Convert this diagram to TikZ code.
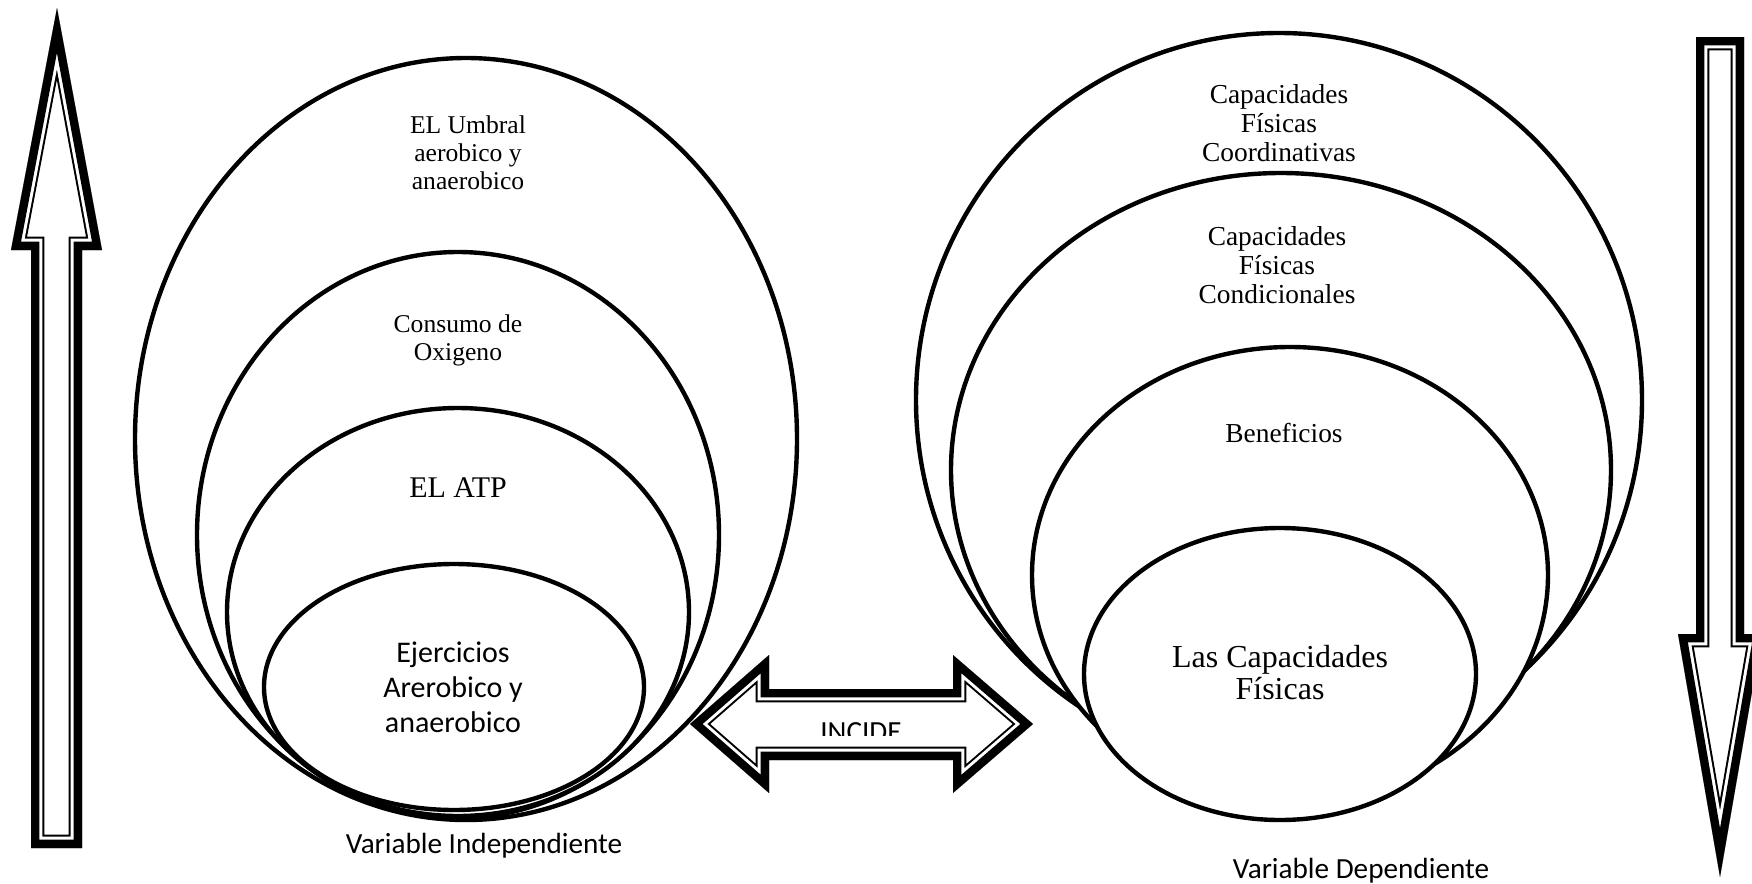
\documentclass[tikz,border=0pt]{standalone}
\usepackage{fontspec}
\setmainfont{Liberation Serif}
\newfontfamily\calibri{Carlito}
\newcommand\wordarrow[1]{%
  \begin{scope}
    \clip #1;
    \fill[white] #1;
    \draw[black, line width=13.3pt, miter limit=20] #1;
    \draw[white, line width=11.3pt, miter limit=20] #1;
    \draw[black, line width=8.3pt, miter limit=20] #1;
  \end{scope}}
\begin{document}
\begin{tikzpicture}[x=0.5pt,y=-0.5pt,
  ring/.style={draw=black, fill=white, line width=2.2pt},
  serifa/.style={align=center, inner sep=0pt, font=\fontsize{12.8}{14}\selectfont},
  serifb/.style={align=center, inner sep=0pt, font=\fontsize{13.7}{14.5}\selectfont},
  serifc/.style={align=center, inner sep=0pt, font=\fontsize{16}{16}\selectfont},
  sansa/.style={align=center, inner sep=0pt, font=\calibri\fontsize{15}{17.5}\selectfont},
  sansb/.style={inner sep=0pt, font=\calibri\fontsize{14.6}{17}\selectfont}]
\useasboundingbox (0,0) rectangle (1752,884);
\fill[white] (0,0) rectangle (1752,884);

% left nested ellipses
\filldraw[ring] (466,439) ellipse [x radius=331, y radius=381];
\filldraw[ring] (458,535) ellipse [x radius=261, y radius=283];
\filldraw[ring] (458,612) ellipse [x radius=231, y radius=204];
\filldraw[ring] (454,687) ellipse [x radius=190, y radius=123];

% right nested ellipses
\filldraw[ring] (1279,400) ellipse [x radius=363, y radius=367];
\filldraw[ring] (1281,470) ellipse [x radius=330, y radius=297];
\filldraw[ring] (1290,575) ellipse [x radius=258, y radius=228];
\filldraw[ring] (1280,674) ellipse [x radius=196, y radius=146];

% texts
\node[serifa] (umbral) at (468,153) {EL Umbral\\aerobico y\\anaerobico};
\node[serifa] (consumo) at (458,340) {Consumo de\\Oxigeno};
\node[inner sep=0pt, font=\fontsize{15}{17}\selectfont, anchor=base] (atp) at (458,497) {EL ATP};
\node[sansa] (ejer) at (453,687) {Ejercicios\\Arerobico y\\anaerobico};
\node[sansb, anchor=base] (vi) at (484,853) {Variable Independiente};

\node[serifb] (coord) at (1279,123) {Capacidades\\Físicas\\Coordinativas};
\node[serifb] (cond) at (1277,265) {Capacidades\\Físicas\\Condicionales};
\node[serifb, anchor=base] (benef) at (1284,442) {Beneficios};
\node[serifc] (lascap) at (1280,673) {Las Capacidades\\Físicas};
\node[sansb, anchor=base] (vd) at (1361,878) {Variable Dependiente};

% arrows
\wordarrow{(57,8) -- (102,250) -- (82,250) -- (82,848) -- (31,848) -- (31,250) -- (11,250) -- cycle}
\wordarrow{(1696,37) -- (1744,37) -- (1744,634) -- (1762,634) -- (1720,877) -- (1678,634) -- (1696,634) -- cycle}
\wordarrow{(690,724) -- (769,655) -- (769,689) -- (953,689) -- (953,655) -- (1033,724) -- (953,793) -- (953,760) -- (769,760) -- (769,793) -- cycle}
\begin{scope}
  \clip (780,700) rectangle (940,735);
  \node[sansb, anchor=base] (incide) at (861,741) {INCIDE};
\end{scope}
\end{tikzpicture}
\end{document}
